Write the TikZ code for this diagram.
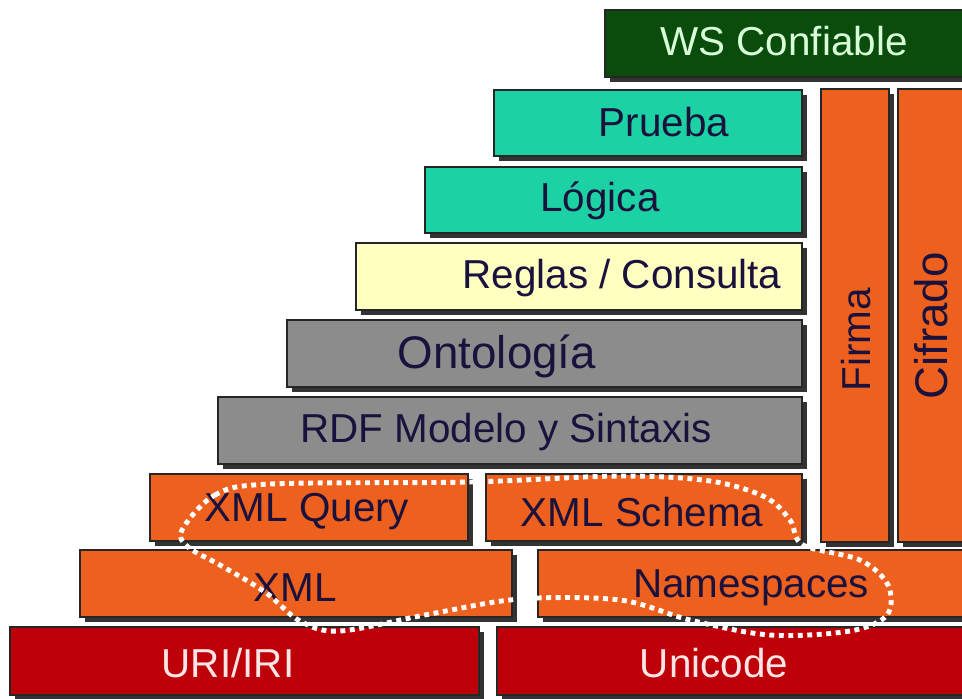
\documentclass[tikz,border=0pt]{standalone}
\usepackage{fontspec}
\setmainfont{Liberation Sans}
\usetikzlibrary{shadows}
\definecolor{wsgreen}{RGB}{10,76,12}
\definecolor{teal}{RGB}{28,210,165}
\definecolor{paleyellow}{RGB}{255,255,194}
\definecolor{midgray}{RGB}{140,140,140}
\definecolor{brick}{RGB}{238,96,30}
\definecolor{darkred}{RGB}{190,0,8}
\definecolor{navytext}{RGB}{26,18,60}
\begin{document}
\begin{tikzpicture}[x=0.02cm,y=-0.02cm,
    layer/.style={draw=black!85, line width=0.6pt,
      drop shadow={shadow xshift=3pt, shadow yshift=-3pt, fill=black, opacity=0.8}},
    label/.style={font=\fontsize{23}{27}\selectfont, text=navytext, inner sep=0pt},
    biglabel/.style={label, font=\fontsize{26}{30}\selectfont},
    ring/.style={white, line width=2.8pt, dash pattern=on 2.8pt off 2.6pt}]
  \clip (0,0) rectangle (962,698);
  \fill[white] (0,0) rectangle (962,698);
  \draw[layer, fill=wsgreen] (605,10) rectangle (975,77);
  \node[label, text=green!15!white] (ws) at (784,41) {WS Confiable};
  \draw[layer, fill=teal] (494,90) rectangle (802,156);
  \node[label] (prueba) at (664,122) {Prueba};
  \draw[layer, fill=teal] (425,167) rectangle (802,233);
  \node[label] (logica) at (600,201) {Lógica};
  \draw[layer, fill=paleyellow] (356,243) rectangle (802,310);
  \node[label] (reglas) at (622,278) {Reglas / Consulta};
  \draw[layer, fill=midgray] (287,320) rectangle (802,387);
  \node[biglabel] (ontologia) at (497,356) {Ontología};
  \draw[layer, fill=midgray] (218,397) rectangle (802,464);
  \node[label] (rdf) at (506,432) {RDF Modelo y Sintaxis};
  \draw[layer, fill=brick] (150,474) rectangle (468,541);
  \node[label] (xmlquery) at (307,512) {XML Query};
  \draw[layer, fill=brick] (486,474) rectangle (802,541);
  \node[label] (xmlschema) at (642,512) {XML Schema};
  \draw[layer, fill=brick] (80,550) rectangle (512,617);
  \node[label] (xml) at (295,588) {XML};
  \draw[layer, fill=brick] (538,550) rectangle (975,617);
  \node[label] (namespaces) at (751,588) {Namespaces};
  \draw[layer, fill=darkred] (10,627) rectangle (479,695);
  \node[label, text=white!90!red] (uri) at (228,663) {URI/IRI};
  \draw[layer, fill=darkred] (497,627) rectangle (975,695);
  \node[label, text=white!90!red] (unicode) at (714,663) {Unicode};
  \draw[layer, fill=brick] (821,89) rectangle (889,542);
  \node[label, rotate=90] (firma) at (856,340) {Firma};
  \draw[layer, fill=brick] (898,89) rectangle (975,542);
  \node[biglabel, rotate=90] (cifrado) at (931,326) {Cifrado};
  \draw[ring] plot[smooth cycle, tension=0.55] coordinates {
    (182,530) (215,495) (270,484) (470,482) (620,476) (710,481)
    (765,497) (790,520) (803,545) (860,560) (888,585) (887,615)
    (850,631) (770,635) (690,620) (620,600) (520,599) (430,614)
    (340,631) (300,621) (265,592) (220,565) (188,547)};
\end{tikzpicture}
\end{document}
